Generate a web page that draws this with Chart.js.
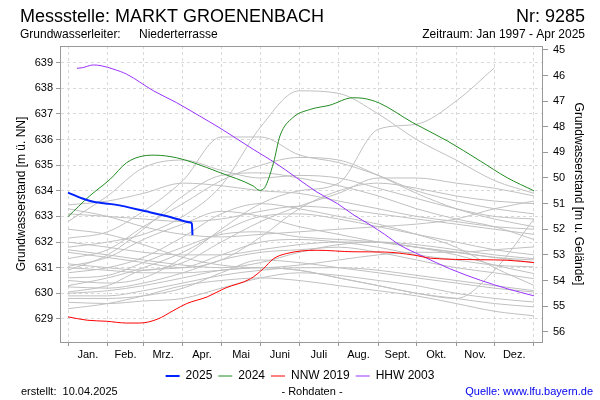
<!DOCTYPE html>
<html>
<head>
<meta charset="utf-8">
<script src="https://cdn.jsdelivr.net/npm/chart.js@4"></script>
<style>
  html, body { margin: 0; padding: 0; background: #fff; }
  #wrap { width: 600px; height: 400px; }
</style>
</head>
<body>
<div id="wrap"><canvas id="chart" width="600" height="400"></canvas></div>
<script>
// month axis (day of year)
const monthNames = ["Jan.", "Feb.", "Mrz.", "Apr.", "Mai", "Juni", "Juli", "Aug.", "Sept.", "Okt.", "Nov.", "Dez."];
const monthStarts = [0, 31, 59, 90, 120, 151, 181, 212, 243, 273, 304, 334, 365];
const leftTicks = [629, 630, 631, 632, 633, 634, 635, 636, 637, 638, 639];
const rightTicks = [45, 46, 47, 48, 49, 50, 51, 52, 53, 54, 55, 56];
const groundLevel = 684.5;

// highlighted years: day of year / level in m ü. NN
const days2025 = [0, 13, 20, 37, 61, 80, 96, 97, 97.5];
const level2025 = [633.93, 633.67, 633.57, 633.46, 633.2, 632.98, 632.76, 632.72, 632.27];

const days2024 = [0, 17, 33, 46, 59, 68, 85, 98, 119, 145, 150, 154, 161, 166, 176, 190, 205, 223, 231, 244, 270, 297, 323, 344, 365];
const level2024 = [632.99, 633.8, 634.45, 635.1, 635.36, 635.39, 635.29, 635.1, 634.71, 634.19, 634.02, 634.12, 635.1, 636.14, 636.85, 637.18, 637.34, 637.63, 637.61, 637.42, 636.66, 635.95, 635.16, 634.51, 634.0];

const daysNNW = [0, 15, 30, 46, 56, 70, 83, 93, 109, 123, 143, 153, 161, 171, 195, 224, 248, 271, 284, 323, 344, 365];
const levelNNW = [629.08, 628.95, 628.91, 628.84, 628.84, 628.99, 629.34, 629.6, 629.86, 630.2, 630.57, 630.96, 631.35, 631.55, 631.68, 631.62, 631.61, 631.49, 631.37, 631.31, 631.29, 631.2];

const daysHHW = [7, 11, 20, 26, 36, 46, 67, 85, 103, 119, 145, 162, 179, 195, 211, 224, 237, 248, 260, 276, 299, 323, 344, 365];
const levelHHW = [638.78, 638.8, 638.91, 638.88, 638.74, 638.55, 637.9, 637.44, 636.92, 636.45, 635.62, 635.1, 634.51, 633.95, 633.5, 633.05, 632.66, 632.3, 631.88, 631.49, 630.96, 630.51, 630.18, 629.9];

// other years 1997-2023, monthly readings (Jan 1 ... Dec 1, Dec 31)
const greyDays = [0, 31, 59, 90, 120, 151, 181, 212, 243, 273, 304, 334, 365];
const greyYears = [
  [633.45, 633.6, 633.9, 634.3, 634.2, 634.0, 633.9, 633.6, 633.3, 633.0, 632.8, 632.6, 632.5],
  [633.1, 633.0, 632.9, 632.8, 632.9, 633.2, 633.4, 633.3, 633.1, 632.9, 632.7, 632.5, 632.3],
  [632.8, 633.8, 634.9, 635.2, 634.8, 634.5, 634.6, 634.5, 634.1, 633.7, 633.3, 633.0, 632.9],
  [632.15, 632.4, 633.2, 634.4, 636.1, 636.1, 635.4, 635.1, 634.6, 634.0, 633.6, 633.3, 633.1],
  [631.8, 632.0, 632.3, 633.0, 634.2, 636.5, 637.9, 637.8, 637.0, 636.0, 635.2, 634.4, 633.9],
  [631.6, 631.4, 631.2, 631.0, 631.3, 632.2, 633.3, 634.0, 634.3, 634.1, 633.8, 633.6, 633.5],
  [631.35, 631.7, 632.6, 633.5, 634.4, 635.0, 635.3, 635.2, 634.6, 633.9, 633.3, 632.9, 632.6],
  [631.15, 631.0, 630.9, 631.2, 632.0, 632.8, 633.4, 633.9, 634.5, 634.5, 634.3, 634.1, 633.8],
  [631.05, 631.4, 632.1, 632.7, 633.2, 633.0, 632.6, 632.3, 632.0, 631.8, 631.6, 631.4, 631.2],
  [630.6, 630.7, 631.2, 631.8, 632.3, 632.4, 632.2, 632.1, 632.0, 631.8, 631.5, 631.1, 630.77],
  [630.5, 630.4, 630.6, 631.4, 632.5, 633.5, 634.0, 634.3, 636.4, 636.6, 637.5, 638.8, null],
  [630.25, 630.2, 630.4, 630.8, 631.3, 631.6, 631.7, 631.8, 631.6, 631.3, 631.0, 630.8, 630.57],
  [630.05, 630.3, 630.9, 631.0, 631.5, 632.0, 632.1, 632.0, 631.8, 631.5, 631.3, 631.1, 631.03],
  [629.8, 629.8, 629.9, 630.2, 630.8, 631.3, 631.2, 631.0, 630.8, 630.6, 630.4, 630.2, 630.05],
  [629.65, 629.6, 629.7, 629.8, 630.2, 630.6, 630.8, 630.7, 630.5, 630.3, 630.0, 629.8, 629.66],
  [629.4, 629.6, 629.9, 630.3, 630.5, 630.6, 630.5, 630.3, 630.1, 629.9, 629.6, 629.3, 629.12],
  [631.0, 630.9, 630.8, 630.8, 630.9, 631.0, 630.9, 630.6, 630.3, 630.0, 629.8, 630.9, 632.9],
  [632.0, 631.8, 631.6, 631.5, 631.5, 631.7, 631.9, 632.0, 632.0, 631.9, 631.7, 631.5, 631.35],
  [633.3, 633.0, 632.6, 632.3, 632.2, 632.3, 632.4, 632.5, 632.6, 632.7, 632.9, 633.3, 633.6],
  [630.9, 631.5, 632.5, 633.8, 634.6, 634.7, 634.5, 634.2, 633.8, 633.3, 632.9, 632.6, 632.1],
  [632.5, 632.3, 631.9, 631.4, 631.1, 631.0, 631.1, 631.3, 631.5, 631.6, 631.6, 631.7, 631.81],
  [630.8, 631.0, 631.4, 632.2, 633.1, 633.5, 633.3, 633.0, 632.7, 632.3, 631.8, 631.0, 630.31],
  [630.0, 630.1, 630.3, 630.6, 630.9, 631.0, 630.9, 630.6, 630.3, 630.0, 629.8, 629.6, 629.47],
  [631.7, 631.5, 631.3, 631.1, 631.0, 631.2, 631.6, 631.9, 632.0, 631.8, 631.6, 631.4, 631.3],
  [630.3, 630.6, 631.0, 631.6, 632.4, 633.0, 633.1, 632.9, 632.6, 632.3, 632.0, 631.7, 631.5],
  [629.9, 629.9, 630.1, 630.4, 630.7, 630.9, 631.0, 631.0, 630.9, 630.7, 630.5, 630.3, 630.1]
];

const FONT = '"Liberation Sans", Arial, sans-serif';
const GRID = "#d9d9d9";
const AXIS = "#999999";

function toPoints(days, vals) {
  const pts = [];
  days.forEach((d, i) => { if (vals[i] !== null) pts.push({ x: d, y: vals[i] }); });
  return pts;
}

const xTickValues = monthStarts.concat(monthStarts.slice(0, 12).map((s, i) => (s + monthStarts[i + 1]) / 2)).sort((a, b) => a - b);
const isBoundary = v => monthStarts.includes(v);

const datasets = [
  { label: "2025", data: toPoints(days2025, level2025), borderColor: "#0022ff", borderWidth: 2 },
  { label: "2024", data: toPoints(days2024, level2024), borderColor: "#228b22", borderWidth: 1 },
  { label: "NNW 2019", data: toPoints(daysNNW, levelNNW), borderColor: "#ff0000", borderWidth: 1 },
  { label: "HHW 2003", data: toPoints(daysHHW, levelHHW), borderColor: "#9933ff", borderWidth: 1 }
];
greyYears.forEach((vals, i) => {
  datasets.push({ label: "grey" + i, data: toPoints(greyDays, vals), borderColor: "#c0c0c0", borderWidth: 1 });
});
datasets.forEach(ds => {
  ds.backgroundColor = ds.borderColor;
  ds.pointRadius = 0;
  ds.fill = false;
  ds.cubicInterpolationMode = "monotone";
});

const texts = {
  id: "texts",
  afterDraw(chart) {
    const ctx = chart.ctx;
    const a = chart.chartArea;
    ctx.save();
    ctx.strokeStyle = AXIS;
    ctx.lineWidth = 1;
    ctx.beginPath();
    ctx.moveTo(a.left, a.top + 0.5);
    ctx.lineTo(a.right, a.top + 0.5);
    ctx.stroke();

    ctx.fillStyle = "#000";
    ctx.textBaseline = "alphabetic";
    ctx.font = "18px " + FONT;
    ctx.textAlign = "left";
    ctx.fillText("Messstelle: MARKT GROENENBACH", 20, 22);
    ctx.textAlign = "right";
    ctx.fillText("Nr: 9285", 585, 22);

    ctx.font = "12px " + FONT;
    ctx.textAlign = "left";
    ctx.fillText("Grundwasserleiter:", 20, 38);
    ctx.fillText("Niederterrasse", 139, 38);
    ctx.textAlign = "right";
    ctx.fillText("Zeitraum: Jan 1997 - Apr 2025", 585, 38);

    ctx.font = "11px " + FONT;
    ctx.textAlign = "left";
    ctx.fillText("erstellt:  10.04.2025", 21, 395);
    ctx.textAlign = "center";
    ctx.fillText("- Rohdaten -", 312, 395);
    ctx.textAlign = "right";
    ctx.fillStyle = "#0000ee";
    ctx.fillText("Quelle: www.lfu.bayern.de", 593, 395);
    ctx.restore();
  }
};

new Chart(document.getElementById("chart"), {
  type: "line",
  data: { datasets },
  plugins: [texts],
  options: {
    responsive: false,
    animation: false,
    events: [],
    layout: { padding: { top: 46, left: 0, right: 0, bottom: 8 } },
    plugins: {
      tooltip: { enabled: false },
      legend: {
        position: "bottom",
        labels: {
          filter: item => item.datasetIndex < 4,
          usePointStyle: true,
          pointStyle: "line",
          pointStyleWidth: 14,
          boxHeight: 12,
          padding: 6,
          color: "#000",
          font: { size: 12, family: FONT }
        }
      }
    },
    scales: {
      x: {
        type: "linear",
        min: -6.27,
        max: 371.27,
        afterBuildTicks: s => { s.ticks = xTickValues.map(v => ({ value: v })); },
        afterFit: s => { s.height = 22; },
        ticks: {
          autoSkip: false,
          maxRotation: 0,
          padding: 2,
          color: "#000",
          font: { size: 11, family: FONT },
          callback: v => isBoundary(v) ? "" : monthNames[monthStarts.findIndex(s => s > v) - 1]
        },
        grid: {
          color: c => (c.tick && isBoundary(c.tick.value)) ? GRID : "rgba(0,0,0,0)",
          tickColor: c => (c.tick && isBoundary(c.tick.value)) ? AXIS : "rgba(0,0,0,0)",
          tickLength: 4
        },
        border: { color: AXIS, dash: [3, 3] }
      },
      y: {
        position: "left",
        min: 628.1,
        max: 639.65,
        afterBuildTicks: s => { s.ticks = leftTicks.map(v => ({ value: v })); },
        afterFit: s => { s.width = 60; },
        ticks: { padding: 3, color: "#000", font: { size: 11, family: FONT } },
        grid: { color: GRID, tickColor: AXIS, tickLength: 4 },
        border: { color: AXIS, dash: [3, 3] },
        title: {
          display: true,
          text: "Grundwasserstand [m ü. NN]",
          color: "#000",
          font: { size: 12, family: FONT },
          padding: { top: 14, bottom: 0 }
        }
      },
      y2: {
        position: "right",
        reverse: true,
        min: groundLevel - 639.65,
        max: groundLevel - 628.1,
        afterBuildTicks: s => { s.ticks = rightTicks.map(v => ({ value: v })); },
        afterFit: s => { s.width = 58; },
        ticks: { padding: 5, color: "#000", font: { size: 11, family: FONT } },
        grid: { drawOnChartArea: false, tickColor: AXIS, tickLength: 6 },
        border: { color: AXIS },
        title: {
          display: true,
          text: "Grundwasserstand [m u. Gelände]",
          color: "#000",
          font: { size: 12, family: FONT },
          padding: { top: 14, bottom: 0 }
        }
      }
    }
  }
});
</script>
</body>
</html>
